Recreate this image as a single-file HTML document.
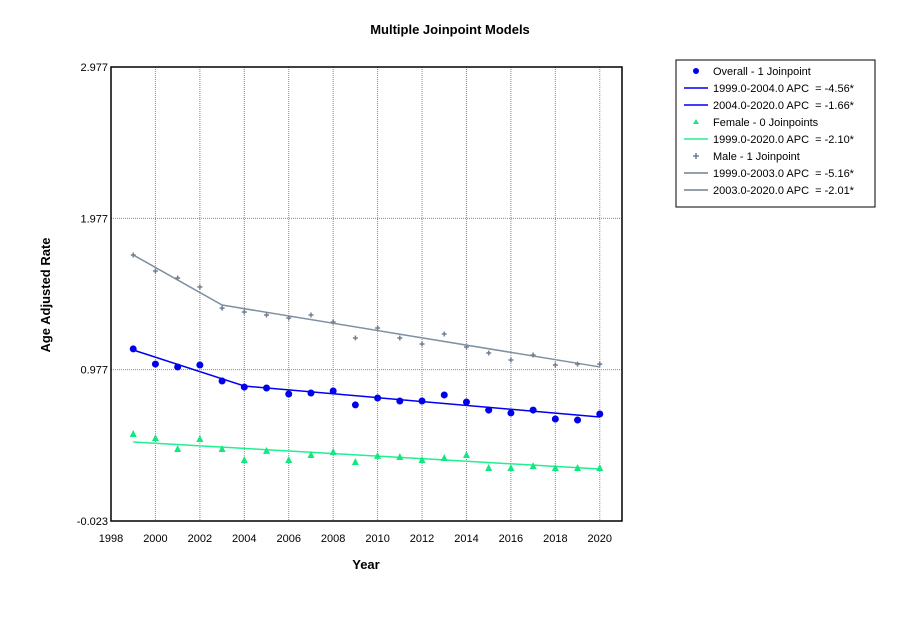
<!DOCTYPE html>
<html><head><meta charset="utf-8"><style>
body{margin:0;background:#fff;font-family:"Liberation Sans",sans-serif}
svg text{font-family:"Liberation Sans",sans-serif;white-space:pre}
</style></head><body>
<svg width="904" height="636">
<text x="450" y="34" text-anchor="middle" font-size="13" font-weight="bold">Multiple Joinpoint Models</text>
<text transform="translate(50,295) rotate(-90)" text-anchor="middle" font-size="13" font-weight="bold">Age Adjusted Rate</text>
<text x="366" y="569" text-anchor="middle" font-size="13" font-weight="bold">Year</text>
<g id="grid"></g>
<g id="marks"></g>
<rect x="111" y="67" width="511" height="454" fill="none" stroke="#000" stroke-width="1.5"/>
<g id="legend">
<rect x="676" y="60" width="199" height="147" fill="#fff" stroke="#000"/>
</g>
</svg>
<script>
const years=[1999,2000,2001,2002,2003,2004,2005,2006,2007,2008,2009,2010,2011,2012,2013,2014,2015,2016,2017,2018,2019,2020];
const overall=[1.114,1.014,0.995,1.008,0.902,0.862,0.856,0.816,0.823,0.836,0.744,0.790,0.770,0.770,0.810,0.763,0.710,0.691,0.710,0.651,0.644,0.684];
const female=[0.552,0.525,0.453,0.519,0.453,0.380,0.440,0.380,0.413,0.433,0.367,0.407,0.400,0.380,0.393,0.413,0.327,0.327,0.340,0.327,0.327,0.327];
const male=[1.735,1.629,1.583,1.523,1.384,1.358,1.338,1.318,1.338,1.292,1.186,1.252,1.186,1.147,1.213,1.127,1.087,1.041,1.074,1.008,1.014,1.014];
const overallFitX=[1999,2004,2020];
const overallFitY=[1.107,0.869,0.664];
const femaleFitX=[1999,2020];
const femaleFitY=[0.499,0.321];
const maleFitX=[1999,2003,2020];
const maleFitY=[1.735,1.404,0.995];
const xTicks=[1998,2000,2002,2004,2006,2008,2010,2012,2014,2016,2018,2020];
const yTicks=[-0.023,0.977,1.977,2.977];
const yTickLabels=["-0.023","0.977","1.977","2.977"];
const legendLabels=["Overall - 1 Joinpoint","1999.0-2004.0 APC  = -4.56*","2004.0-2020.0 APC  = -1.66*","Female - 0 Joinpoints","1999.0-2020.0 APC  = -2.10*","Male - 1 Joinpoint","1999.0-2003.0 APC  = -5.16*","2003.0-2020.0 APC  = -2.01*"];

const NS="http://www.w3.org/2000/svg";
const X0=111,X1=622,Y0=521,Y1=67,xmin=1998,xmax=2021,ymin=-0.023,ymax=2.977;
const sx=v=>X0+(v-xmin)/(xmax-xmin)*(X1-X0);
const sy=v=>Y0-(v-ymin)/(ymax-ymin)*(Y0-Y1);
function mk(tag,attrs,parent){const e=document.createElementNS(NS,tag);for(const k in attrs)e.setAttribute(k,attrs[k]);parent.appendChild(e);return e;}
const grid=document.getElementById('grid'),marks=document.getElementById('marks'),svg=document.querySelector('svg');
xTicks.forEach(t=>{
 if(t>xmin){const l=mk('line',{x1:sx(t),x2:sx(t),y1:Y1,y2:Y0,stroke:'#888','stroke-dasharray':'1,1'},grid);
 
 }
 const tx=mk('text',{x:sx(t),y:542,'text-anchor':'middle','font-size':'11'},svg);tx.textContent=t;
 
 
});
yTicks.forEach((t,i)=>{
 if(t>ymin){const l=mk('line',{x1:X0,x2:X1,y1:sy(t),y2:sy(t),stroke:'#888','stroke-dasharray':'1,1'},grid);
 
 }
 const tx=mk('text',{x:108,y:sy(t)+4,'text-anchor':'end','font-size':'11'},svg);tx.textContent=yTickLabels[i];
 
 
});
function fit(xs,ys,color,name){
 const p=mk('polyline',{points:xs.map((x,i)=>sx(x)+','+sy(ys[i])).join(' '),fill:'none',stroke:color,'stroke-width':1.5},marks);
 
 
}
function dot(x,y,c){return mk('circle',{cx:x,cy:y,r:3.5,fill:c},marks);}
function tri(x,y,c){return mk('polygon',{points:`${x},${y-4} ${x-3.5},${y+3} ${x+3.5},${y+3}`,fill:c},marks);}
function plus(x,y,c){return mk('path',{d:`M${x-2.5},${y}H${x+2.5}M${x},${y-2.5}V${y+2.5}`,stroke:c,'stroke-width':1.5},marks);}
fit(maleFitX,maleFitY,'#8090a0','male-fit-line');
fit(overallFitX,overallFitY,'#0000ee','overall-fit-line');
fit(femaleFitX,femaleFitY,'#20f090','female-fit-line');
years.forEach((y,i)=>{
 const a=dot(sx(y),sy(overall[i]),'#0000ee');
 
 
 const b=tri(sx(y),sy(female[i]),'#10e880');
 
 
 const c=plus(sx(y),sy(male[i]),'#708090');
 
 
});
const lg=document.getElementById('legend');
const kinds=[['dot','#0000ee'],['line','#0000ee'],['line','#0000ee'],['tri','#10e880'],['line','#20f090'],['plus','#708090'],['line','#708090'],['line','#708090']];
legendLabels.forEach((s,i)=>{
 const y=71+i*17;const [k,c]=kinds[i];let m;
 if(k==='line')m=mk('line',{x1:684,x2:708,y1:y,y2:y,stroke:c,'stroke-width':1.5},lg);
 else if(k==='dot')m=mk('circle',{cx:696,cy:y,r:3,fill:c},lg);
 else if(k==='tri')m=mk('polygon',{points:`696,${y-3} 693,${y+2} 699,${y+2}`,fill:c},lg);
 else m=mk('path',{d:`M693,${y}H699M696,${y-3}V${y+3}`,stroke:c,'stroke-width':1.5},lg);
 
 
 const t=mk('text',{x:713,y:y+4,'font-size':'11'},lg);t.textContent=s;
 
 
});
</script>
</body></html>
